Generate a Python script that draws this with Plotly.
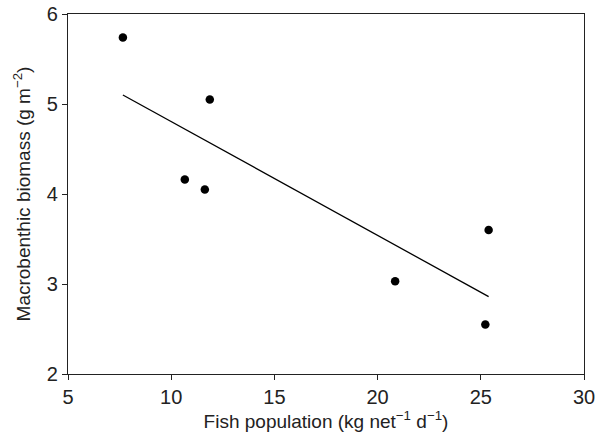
import plotly.graph_objects as go

fish_population = [7.66, 11.87, 10.66, 11.63, 20.85, 25.38, 25.22]
macrobenthic_biomass = [5.74, 5.05, 4.16, 4.05, 3.03, 3.60, 2.55]
fit_x = [7.66, 25.38]
fit_y = [5.10, 2.86]

FONT = "Liberation Sans, Arial, sans-serif"

fig = go.Figure()
fig.add_trace(go.Scatter(x=fit_x, y=fit_y, mode="lines",
                         line=dict(color="black", width=1.3), showlegend=False))
fig.add_trace(go.Scatter(x=fish_population, y=macrobenthic_biomass, mode="markers",
                         marker=dict(color="black", size=8.5), showlegend=False))

axis_common = dict(showline=True, linecolor="#222", linewidth=1.3, mirror=True,
                   ticks="outside", ticklen=5, tickcolor="#222", tickwidth=1.2,
                   showgrid=False, zeroline=False, automargin=False,
                   ticklabeloverflow="allow",
                   tickfont=dict(family=FONT, size=20, color="#222"))

fig.update_layout(
    width=598, height=439,
    margin=dict(l=68, r=14, t=14, b=65),
    plot_bgcolor="white", paper_bgcolor="white",
    xaxis=dict(range=[5, 30], tickvals=[5, 10, 15, 20, 25, 30],
               title=dict(text="Fish population (kg net<sup>−1</sup> d<sup>−1</sup>)",
                          font=dict(family=FONT, size=19, color="#222"),
                          standoff=4),
               **axis_common),
    yaxis=dict(range=[2, 6], tickvals=[2, 3, 4, 5, 6],
               title=dict(text="Macrobenthic biomass (g m<sup>−2</sup>)",
                          font=dict(family=FONT, size=19, color="#222"),
                          standoff=11),
               **axis_common),
)

fig.write_html("out.html",
               config={"displayModeBar": False},
               post_script="document.body.style.margin='0';document.body.style.overflow='hidden';")
